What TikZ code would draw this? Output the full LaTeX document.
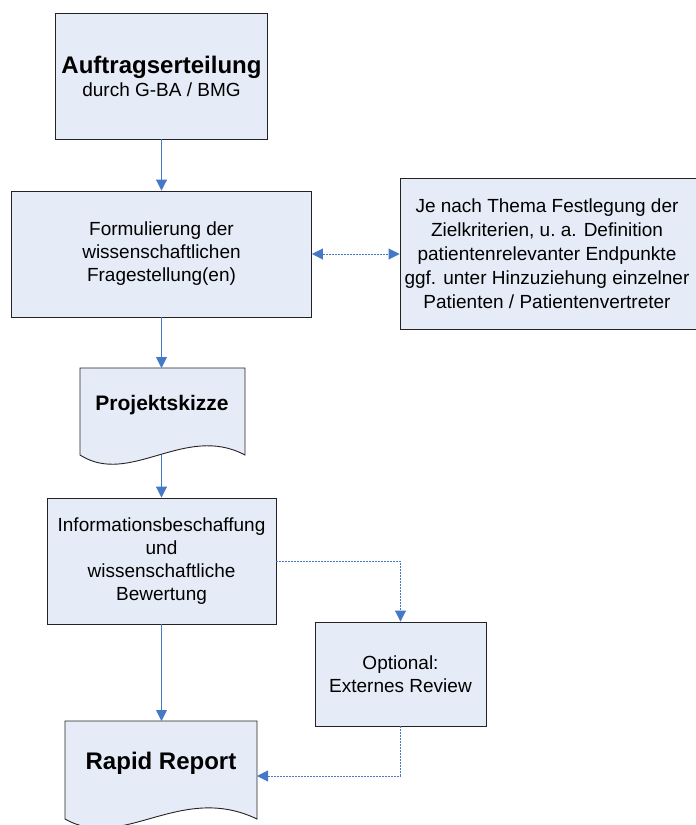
\documentclass[tikz,border=0pt]{standalone}
\usepackage{fontspec}
\setmainfont{Liberation Sans}
\usetikzlibrary{arrows.meta}
\definecolor{boxfill}{RGB}{230,236,247}
\definecolor{arrowblue}{RGB}{70,120,200}
\definecolor{boxline}{RGB}{35,35,35}
\begin{document}
\begin{tikzpicture}[x=1pt,y=-1pt,
  box/.style={draw=boxline, fill=boxfill, line width=0.9pt, align=center, inner sep=0pt,
    font=\fontsize{19}{23}\selectfont},
  docshape/.style={draw=boxline, fill=boxfill, line width=0.9pt},
  txt/.style={align=center, inner sep=0pt, font=\fontsize{19}{24}\selectfont},
  bigtxt/.style={inner sep=0pt, font=\fontsize{24}{28}\selectfont\bfseries},
  flow/.style={draw=arrowblue, line width=0.9pt, -{Triangle[width=11pt,length=11pt]}},
  dotflow/.style={flow, dash pattern=on 2pt off 1pt}]
\useasboundingbox (0,0) rectangle (696,825);
\clip (0,0) rectangle (696,825);

% boxes
\node[box, minimum width=212pt, minimum height=126pt] (auftrag) at (161.5,76)
  {{\fontsize{24}{28}\selectfont\bfseries Auftragserteilung}\\durch G-BA / BMG};
\node[box, minimum width=300pt, minimum height=126pt] (formul) at (161.5,254)
  {Formulierung der\\wissenschaftlichen\\Fragestellung(en)};
\node[box, minimum width=302pt, minimum height=151pt] (ziel) at (551,253.5) {};
\node[txt] (zieltext) at (547,254)
  {Je nach Thema Festlegung der\\Zielkriterien, u.\ a. Definition\\patientenrelevanter Endpunkte\\ggf. unter Hinzuziehung einzelner\\Patienten / Patientenvertreter};
\node[box, minimum width=229pt, minimum height=126pt] (info) at (161.5,561)
  {Informationsbeschaffung\\und\\wissenschaftliche\\Bewertung};
\node[box, minimum width=171pt, minimum height=104pt] (review) at (400.5,674)
  {Optional:\\Externes Review};

% document shapes
\draw[docshape] (80,368) -- (245,368) -- (245,455)
  .. controls (185,423) and (130,487) .. (80,455) -- cycle;
\node[inner sep=0pt, font=\fontsize{21}{25}\selectfont\bfseries] (projtext) at (162,405) {Projektskizze};
\coordinate (projtop) at (161.5,368);
\coordinate (projbot) at (161.5,455);

\draw[docshape] (65,721) -- (257,721) -- (257,819)
  .. controls (180,782) and (123,852) .. (65,819) -- cycle;
\node[bigtxt] (rapidtext) at (161,763) {Rapid Report};
\coordinate (rapidtop) at (161.5,721);
\coordinate (rapidin) at (257,776);

% connectors
\draw[flow] (auftrag.south) -- (formul.north);
\draw[flow] (formul.south) -- (projtop);
\draw[flow] (projbot) -- (info.north);
\draw[flow] (info.south) -- (rapidtop);
\draw[dotflow, {Triangle[width=11pt,length=11pt]}-{Triangle[width=11pt,length=11pt]}] (formul.east) -- (formul.east -| ziel.west);
\draw[dotflow] (info.east) -| (review.north);
\draw[dotflow] (review.south) |- (rapidin);
\end{tikzpicture}
\end{document}
